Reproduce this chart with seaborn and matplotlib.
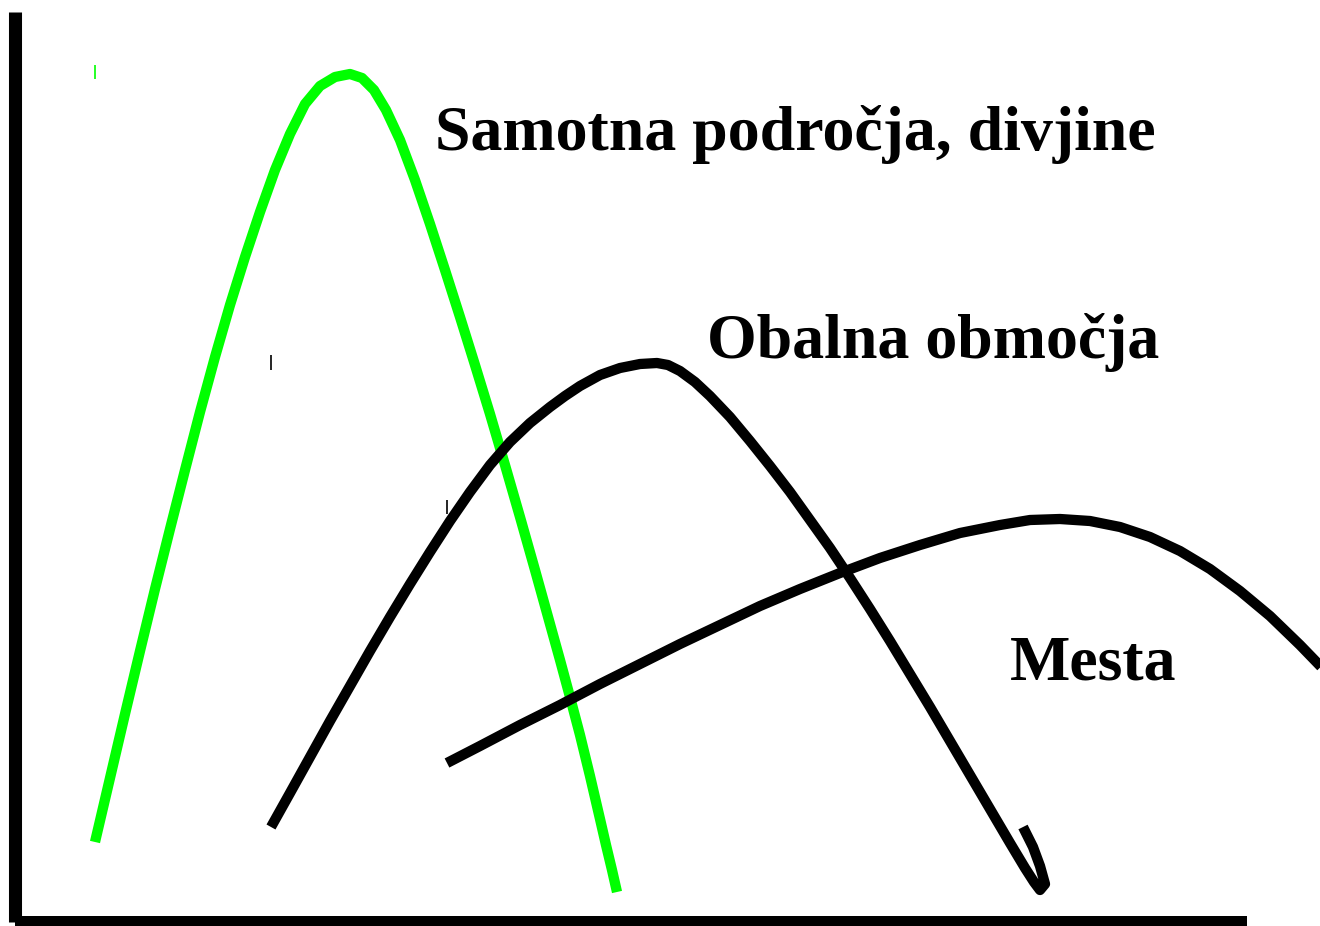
import matplotlib
matplotlib.use("Agg")
import matplotlib.pyplot as plt
import seaborn as sns
import pandas as pd

# Curve data (in picture units)
green_x = [95, 110, 125, 140, 155, 170, 185, 200, 215, 230, 245, 260, 275, 290, 305, 320, 335, 350,
           362, 374, 386, 400, 415, 430, 445, 460, 475, 490, 505, 520, 535, 550, 560, 570, 580, 590,
           600, 606, 612, 617]
green_y = [842, 778, 714, 651, 589, 529, 470, 412, 357, 305, 257, 212, 170, 134, 104, 86, 77, 74,
           78, 90, 110, 140, 180, 224, 270, 317, 365, 414, 465, 517, 570, 624, 660, 697, 735, 776,
           819, 845, 870, 892]

obalna_x = [271, 290, 310, 330, 350, 370, 390, 410, 430, 450, 470, 490, 510, 530, 550, 565, 580, 600,
            620, 640, 657, 668, 680, 695, 710, 730, 750, 770, 790, 810, 830, 850, 870, 890, 910, 930,
            950, 970, 990, 1010, 1025, 1034, 1040, 1045, 1040, 1033, 1023]
obalna_y = [827, 793, 757, 721, 686, 651, 617, 584, 552, 521, 492, 465, 442, 423, 407, 396, 386, 375,
            368, 364, 363, 365, 371, 382, 396, 417, 441, 466, 492, 520, 548, 578, 609, 641, 674, 707,
            741, 775, 809, 843, 868, 882, 890, 884, 866, 847, 827]

mesta_x = [447, 480, 520, 560, 600, 640, 680, 720, 760, 800, 840, 880, 920, 960, 1000, 1030, 1060,
           1090, 1120, 1150, 1180, 1210, 1240, 1270, 1300, 1330]
mesta_y = [763, 746, 725, 705, 684, 664, 644, 625, 606, 589, 573, 558, 545, 533, 525, 520, 519,
           521, 527, 537, 551, 569, 591, 616, 645, 676]

labels = ["Samotna področja, divjine", "Obalna območja", "Mesta"]
label_x = [435, 707, 1010]
label_y = [150, 358, 679]

tick_x = [95, 271, 447]
tick_y0 = [65, 355, 500]
tick_y1 = [79, 370, 514]
tick_colors = ["#00ff00", "black", "black"]

sns.set_theme(style="white")
plt.rcParams['font.family'] = ['Liberation Serif', 'DejaVu Serif']

fig = plt.figure(figsize=(13.2, 9.26), dpi=100)
ax = fig.add_axes([0, 0, 1, 1])
ax.set_xlim(0, 1320)
ax.set_ylim(926, 0)
ax.axis("off")

lw = 7.4
for xs, ys, col in [(green_x, green_y, "#00ff00"), (obalna_x, obalna_y, "black"), (mesta_x, mesta_y, "black")]:
    df = pd.DataFrame({"x": xs, "y": ys})
    sns.lineplot(data=df, x="x", y="y", sort=False, estimator=None, color=col,
                 linewidth=lw, ax=ax, solid_capstyle="butt", solid_joinstyle="round", clip_on=False)

for tx, a, b, c in zip(tick_x, tick_y0, tick_y1, tick_colors):
    ax.plot([tx, tx], [a, b], color=c, linewidth=1.2, solid_capstyle="butt")

# axis lines
ax.plot([14.5, 14.5], [12, 922], color="black", linewidth=9.4, solid_capstyle="butt")
ax.plot([14.5, 1247], [921, 921], color="black", linewidth=7.2, solid_capstyle="butt")

for t, x, y in zip(labels, label_x, label_y):
    ax.text(x, y, t, fontsize=46, fontweight="bold", ha="left", va="baseline", color="black")

fig.savefig("out.png", dpi=100)
